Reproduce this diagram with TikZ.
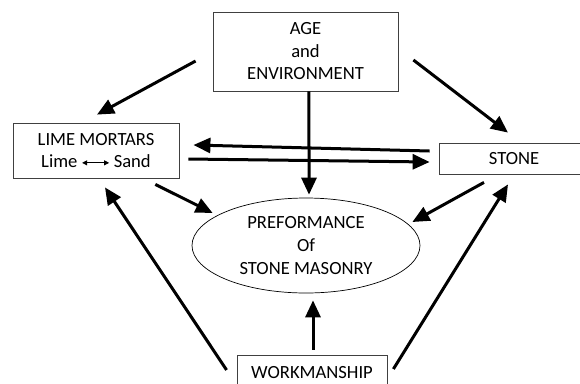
\documentclass[tikz,border=0pt]{standalone}
\usepackage{fontspec}
\setmainfont{Carlito}
\usetikzlibrary{arrows.meta,shapes.geometric}
\begin{document}
\begin{tikzpicture}[x=1bp,y=-1bp,
  box/.style={draw=black!75,line width=0.8bp,rectangle,inner sep=0,align=center,
    font=\fontsize{18.6bp}{22.5bp}\selectfont},
  ell/.style={draw,line width=0.7bp,ellipse,inner sep=0,align=center,
    minimum width=228bp,minimum height=95bp,font=\fontsize{18.6bp}{23bp}\selectfont},
  conn/.style={line width=3bp,-{Triangle[length=17bp,width=15bp]}}]
\clip (0,0) rectangle (580,383);
\fill[white] (0,0) rectangle (580,383);
\node[box,minimum width=185bp,minimum height=79bp] (age) at (305.5,51.5) {AGE\\and\\ENVIRONMENT};
\node[box,minimum width=166bp,minimum height=55bp] (lime) at (96,150.5)
  {LIME MORTARS\\Lime \tikz[baseline=-0.55ex]\draw[line width=0.9bp,{Triangle[length=5bp,width=5bp]}-{Triangle[length=5bp,width=5bp]}] (0,0)--(27bp,0); Sand};
\node[box,minimum width=150bp,minimum height=31bp] (stone) at (514,158.5) {STONE};
\node[ell] (perf) at (306,245.5) {PREFORMANCE\\Of\\STONE MASONRY};
\node[box,minimum width=150bp,minimum height=36bp] (work) at (312,373) {WORKMANSHIP};
\draw[conn] ([shift={(-17,9.5)}]age.west) -- ([shift={(1,-8)}]lime.north);
\draw[conn] ([shift={(15,8.5)}]age.east) -- ([shift={(-6,-10)}]stone.north);
\draw[conn] ([xshift=3.5]age.south) -- ([shift={(3,-3)}]perf.north);
\draw[conn] ([shift={(-9,-7.5)}]stone.west) -- ([shift={(14,-5.5)}]lime.east);
\draw[conn] ([shift={(9,8.5)}]lime.east) -- ([shift={(-9,3.5)}]stone.west);
\draw[conn] ([shift={(-24,6)}]lime.south east) -- ([shift={(21,-32.5)}]perf.west);
\draw[conn] ([shift={(-30,8)}]stone.south) -- ([shift={(-8,-23.5)}]perf.east);
\draw[conn] ([shift={(-10,-3)}]work.west) -- ([shift={(9,9)}]lime.south);
\draw[conn] ([shift={(6,-4)}]work.east) -- ([shift={(-6,10)}]stone.south);
\draw[conn] ([shift={(1,-5)}]work.north) -- ([shift={(7,7)}]perf.south);
\end{tikzpicture}
\end{document}
